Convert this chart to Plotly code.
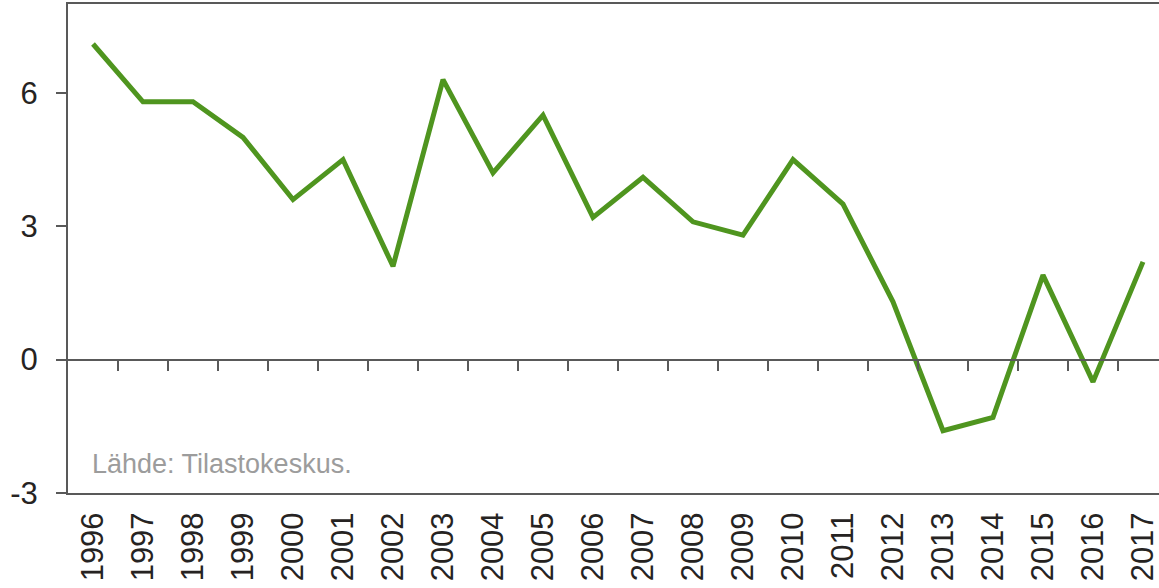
import plotly.graph_objects as go

years = [str(y) for y in range(1996, 2018)]
values = [7.1, 5.8, 5.8, 5.0, 3.6, 4.5, 2.1, 6.3, 4.2, 5.5, 3.2,
          4.1, 3.1, 2.8, 4.5, 3.5, 1.3, -1.6, -1.3, 1.9, -0.5, 2.2]
y_ticks = [-3, 0, 3, 6]
y_tick_text = ["-3", "0", "3", "6"]
source_text = "Lähde: Tilastokeskus."

idx = list(range(len(years)))
axis_col = "#595959"
text_col = "#262322"
font_family = "Liberation Sans, Arial, sans-serif"

fig = go.Figure()
fig.add_trace(go.Scatter(x=idx, y=values, mode="lines",
                         line=dict(color="#4f951f", width=5),
                         showlegend=False, hoverinfo="skip"))
# invisible trace for the zero-line axis
fig.add_trace(go.Scatter(x=idx, y=[0]*len(idx), xaxis="x2", mode="lines",
                         line=dict(width=0), showlegend=False, hoverinfo="skip"))

xr = [-0.5, -0.5 + (1159 - 68) / 50.0]
fig.update_layout(
    width=1159, height=588,
    margin=dict(l=68, r=0, t=4, b=95),
    paper_bgcolor="white", plot_bgcolor="white",
    font=dict(family=font_family, color=text_col, size=31),
    xaxis=dict(range=xr, tickvals=idx, ticktext=years, tickangle=-90,
               showline=True, linecolor=axis_col, linewidth=2, mirror=True,
               showgrid=False, zeroline=False, ticks="", automargin=False,
               ticklabelstandoff=5, ticklabeloverflow="allow",
               tickfont=dict(size=31, color=text_col)),
    xaxis2=dict(range=xr, overlaying="x", anchor="free", position=3/11,
                side="bottom", showline=True, linecolor=axis_col, linewidth=2,
                tickvals=[i + 0.5 for i in idx[:-1]], ticks="outside",
                ticklen=10, tickwidth=2, tickcolor=axis_col, automargin=False,
                showticklabels=False, showgrid=False, zeroline=False),
    yaxis=dict(range=[-3, 8], tickvals=y_ticks, ticktext=y_tick_text,
               showline=True, linecolor=axis_col, linewidth=2,
               ticks="outside", ticklen=10, tickwidth=2, tickcolor=axis_col,
               showgrid=False, zeroline=False, ticklabelstandoff=12,
               automargin=False,
               tickfont=dict(size=31, color=text_col)),
    annotations=[dict(text=source_text, xref="paper", yref="paper",
                      x=0.02, y=0.025, xanchor="left", yanchor="bottom",
                      showarrow=False,
                      font=dict(size=27, color="#9c9c9c", family=font_family))],
)

fig.write_html("out.html", config={"displayModeBar": False},
               post_script="document.body.style.margin='0';document.body.style.overflow='hidden';")
